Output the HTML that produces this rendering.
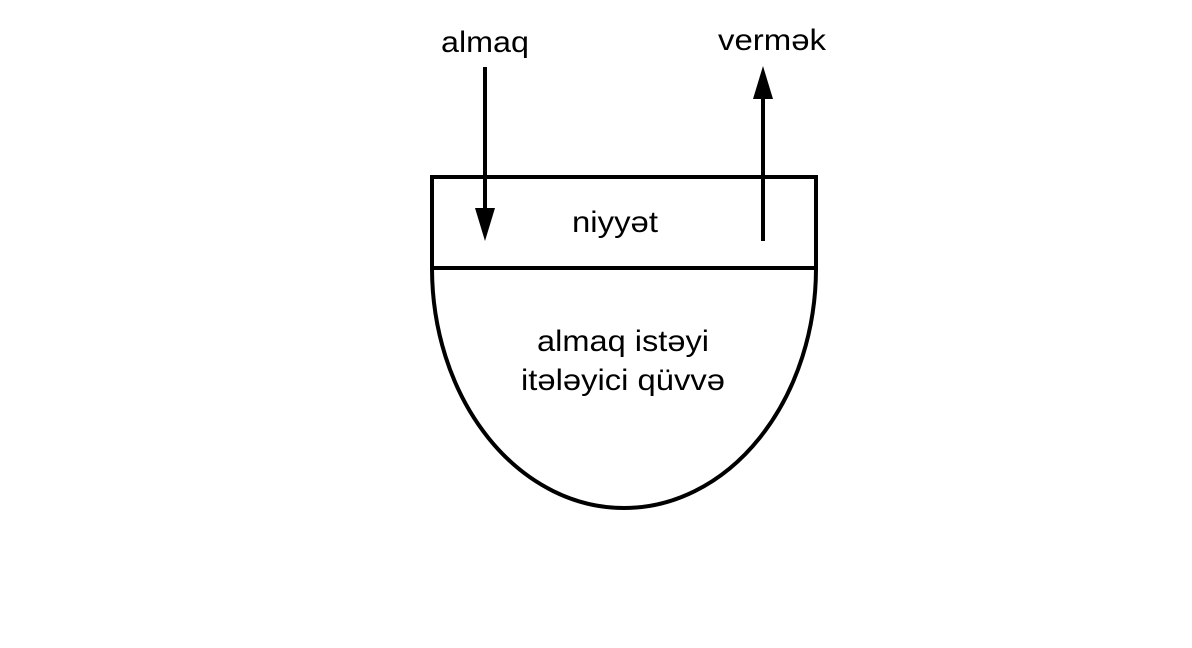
<!DOCTYPE html>
<html><head><meta charset="utf-8"><style>
html,body{margin:0;padding:0;background:#fff;}
svg{display:block;}
text{font-family:"Liberation Sans",sans-serif;fill:#000;}
</style></head><body>
<svg width="1192" height="648" viewBox="0 0 1192 648">
<rect x="432" y="177" width="384" height="91" fill="none" stroke="#000" stroke-width="4"/>
<path d="M432,268 A192,240 0 0 0 816,268" fill="none" stroke="#000" stroke-width="4"/>
<line x1="485" y1="67" x2="485" y2="212" stroke="#000" stroke-width="4"/>
<polygon points="475,208 495,208 485,241" fill="#000"/>
<line x1="763" y1="96" x2="763" y2="241" stroke="#000" stroke-width="4"/>
<polygon points="753,99 773,99 763,66" fill="#000"/>
<text x="441" y="52" font-size="30" textLength="88" lengthAdjust="spacingAndGlyphs">almaq</text>
<text x="718" y="50" font-size="30" textLength="108" lengthAdjust="spacingAndGlyphs">vermək</text>
<text x="572" y="232" font-size="30" textLength="86" lengthAdjust="spacingAndGlyphs">niyyət</text>
<text x="537" y="351" font-size="30" textLength="172" lengthAdjust="spacingAndGlyphs">almaq istəyi</text>
<text x="521" y="390" font-size="30" textLength="204" lengthAdjust="spacingAndGlyphs">itələyici qüvvə</text>
</svg>
</body></html>
